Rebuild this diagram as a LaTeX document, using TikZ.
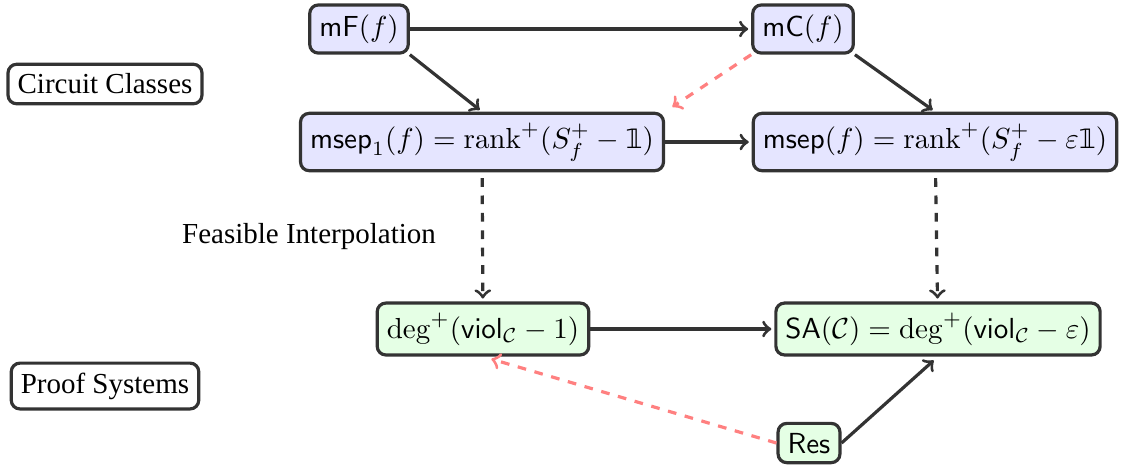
\documentclass[tikz,border=0pt]{standalone}
\usepackage[no-math]{fontspec}
\usepackage{amsmath}
\newfontfamily\lblfont{Liberation Serif}
\newfontfamily\dsfontfam[Scale=0.92]{DejaVu Sans}
\newcommand{\dsone}{\text{\dsfontfam 𝟙}}
\begin{document}
\begin{tikzpicture}[x=0.3448pt,y=-0.3448pt,
  box/.style={draw=black!80,line width=1.1pt,rounded corners=3pt,inner sep=3.3pt},
  bluebox/.style={box,fill=blue!10},
  greenbox/.style={box,fill=green!10},
  whitebox/.style={box,fill=white,font=\lblfont},
  arr/.style={->,draw=black!80,line width=1.1pt,shorten >=1pt},
  darr/.style={arr,dashed,shorten <=2pt},
  rarr/.style={->,draw=red!50,line width=1.1pt,dashed,shorten >=3pt}]
\useasboundingbox (0,0) rectangle (1122,471);
\node[bluebox] (mF) at (359,29) {$\mathsf{mF}(f)$};
\node[bluebox] (mC) at (803,29) {$\mathsf{mC}(f)$};
\node[bluebox] (ms1) at (482,142) {$\mathsf{msep}_1(f) = \mathrm{rank}^+(S_f^+ - \dsone)$};
\node[bluebox] (ms) at (935,142) {$\mathsf{msep}(f) = \mathrm{rank}^+(S_f^+ - \varepsilon\dsone)$};
\node[greenbox] (dg) at (483,329) {$\deg^+(\mathsf{viol}_{\mathcal{C}} - 1)$};
\node[greenbox] (sa) at (938,329) {$\mathsf{SA}(\mathcal{C}) = \deg^+(\mathsf{viol}_{\mathcal{C}} - \varepsilon)$};
\node[greenbox] (res) at (809,443) {$\mathsf{Res}$};
\node[whitebox] (cc) at (105,84) {Circuit Classes};
\node[whitebox] (ps) at (105,386) {Proof Systems};
\node[font=\lblfont] (fi) at (309,237) {Feasible Interpolation};
\draw[arr] (mF) -- (mC);
\draw[arr] (mF.south east) -- (ms1.north);
\draw[arr] (mC.south east) -- (ms.north);
\draw[rarr] (mC.south west) -- (ms1.north east);
\draw[arr] (ms1) -- (ms);
\draw[darr] (ms1) -- (dg);
\draw[darr] (ms) -- (sa);
\draw[arr] (dg) -- (sa);
\draw[arr,shorten >=2pt] (res.east) -- (sa.south);
\draw[rarr] (res.west) -- (dg.south);
\end{tikzpicture}
\end{document}
